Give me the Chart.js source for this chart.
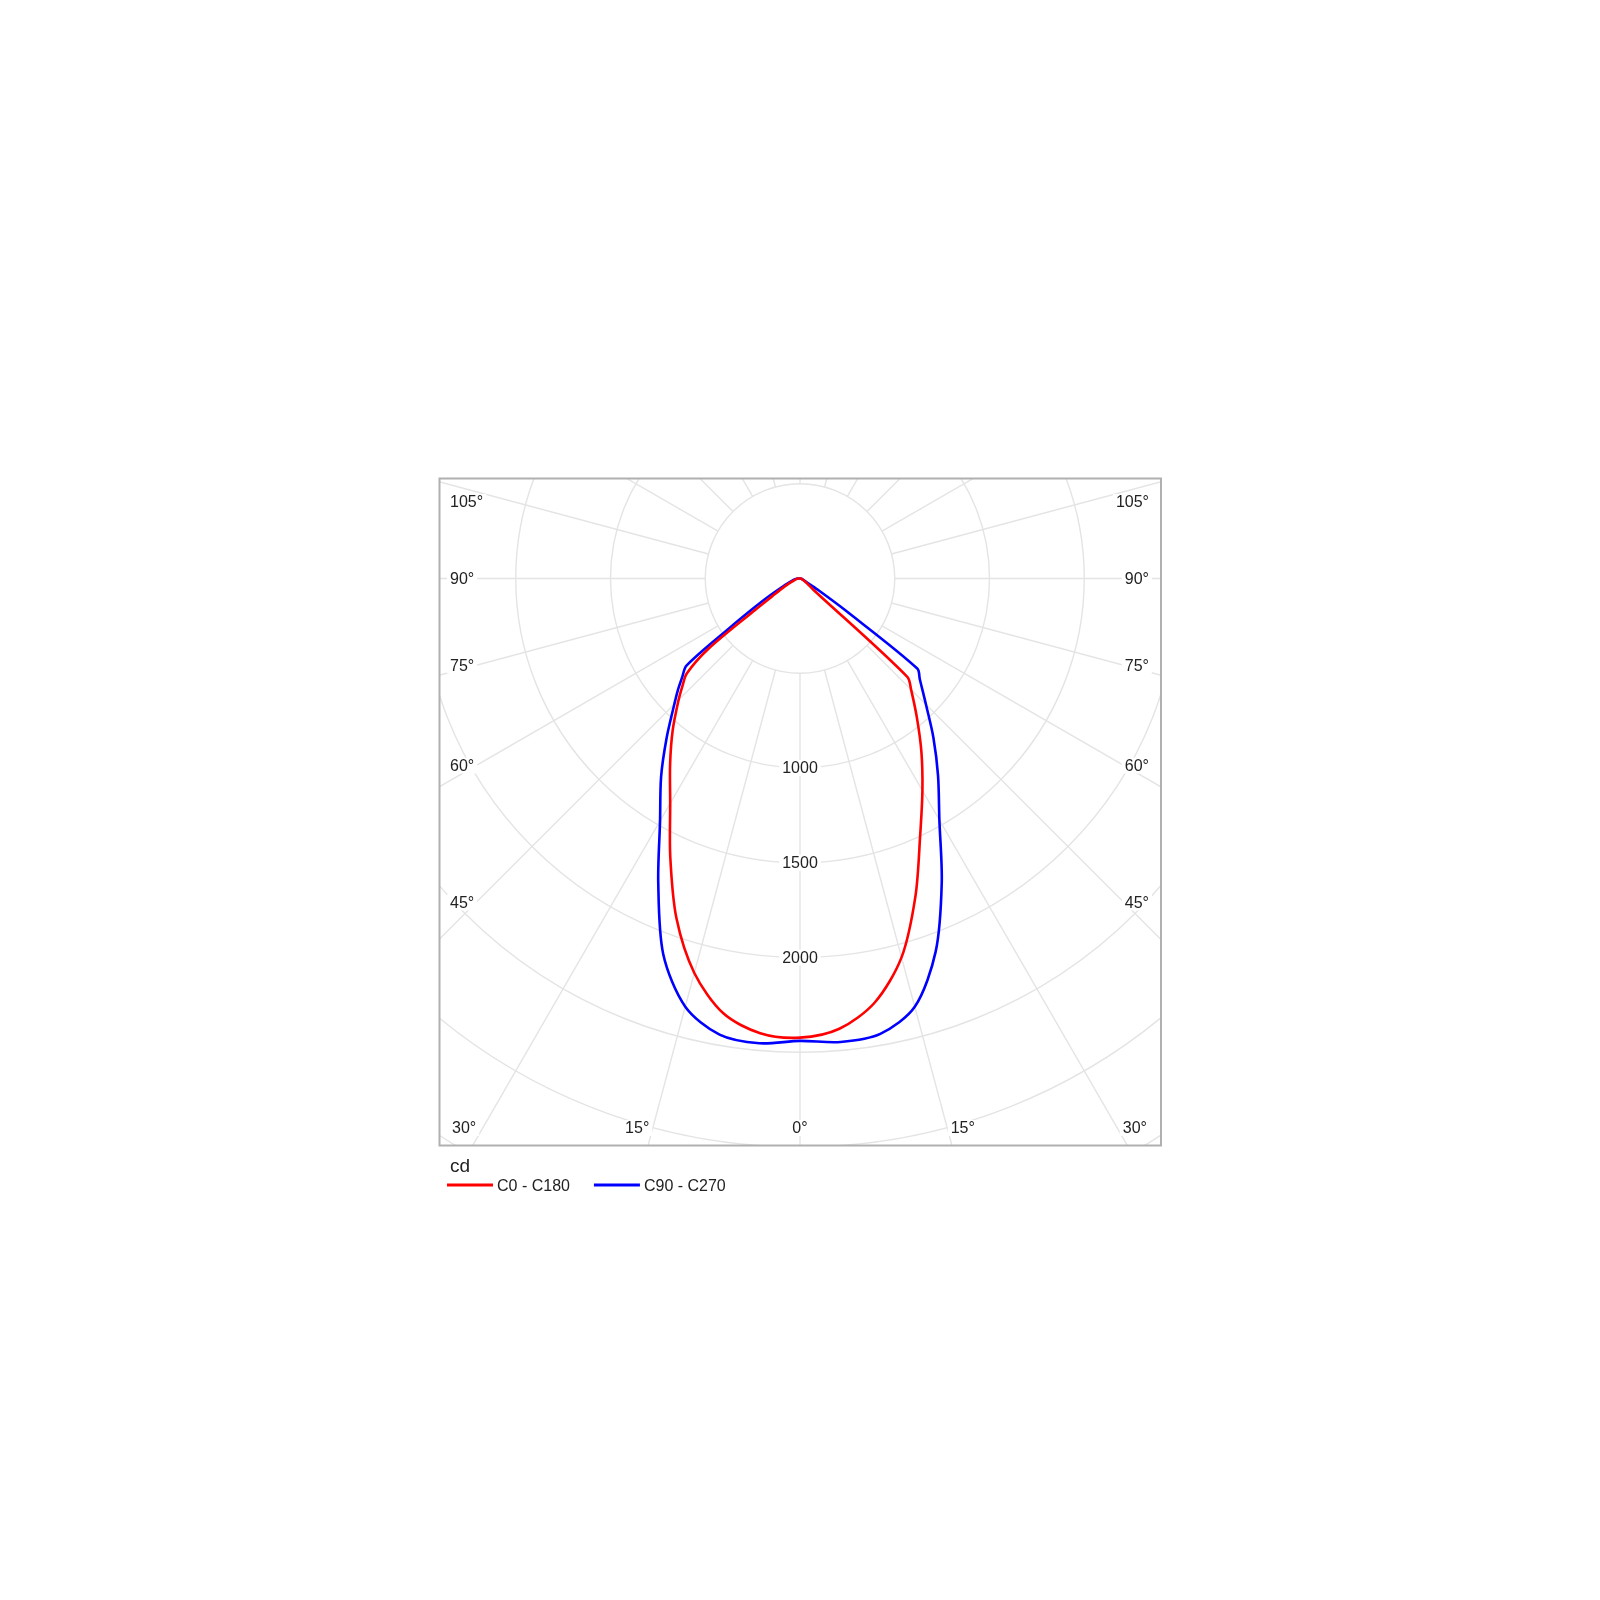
<!DOCTYPE html>
<html>
<head>
<meta charset="utf-8">
<title>Luminous intensity distribution</title>
<script src="https://cdn.jsdelivr.net/npm/chart.js@4.4.1/dist/chart.umd.min.js"></script>
<style>
  html, body { margin: 0; padding: 0; background: #fff; }
  #wrap { position: relative; width: 1600px; height: 1600px; }
</style>
</head>
<body>
<div id="wrap"><canvas id="polarChart"></canvas></div>
<script>
// gamma angles (deg from nadir) and intensities in cd
const GAMMA = [0, 5, 10, 15, 20, 25, 30, 35, 40, 45, 47.5, 50, 52.5, 55, 57.5, 60, 65, 70, 80, 90, 180];
const C0 = [2423, 2385, 2272, 2070, 1782, 1500, 1292, 1117, 960, 829, 768, 90, 60, 45, 35, 28, 18, 12, 6, 3, 0];
const C180 = [2423, 2409, 2330, 2155, 1907, 1620, 1370, 1195, 1045, 906, 842, 780, 609, 291, 173, 123, 70, 40, 20, 10, 0];
const C90 = [2440, 2455, 2440, 2340, 2094, 1770, 1471, 1270, 1095, 940, 878, 825, 780, 290, 120, 50, 25, 15, 8, 4, 0];
const C270 = [2440, 2462, 2444, 2339, 2110, 1770, 1477, 1278, 1094, 938, 875, 812, 755, 450, 290, 200, 100, 60, 30, 15, 0];

const RINGS = [500, 1000, 1500, 2000, 2500, 3000, 3500];
const RING_LABELS = [1000, 1500, 2000];
const ANGLE_LABELS = [0, 15, 30, 45, 60, 75, 90, 105];
const SPOKE_STEP = 15;
const UNIT = "cd";

// layout
const CENTER = { x: 800, y: 578.5 };
const BOX = { left: 440, top: 478, right: 1161, bottom: 1145 };
const PX_PER_CD = 0.1895;
const FONT = '"Liberation Sans", Arial, sans-serif';
const TEXT_COLOR = "#222";
const GRID_COLOR = "#e4e4e4";

function polar(gamma, value, side) {
  const t = gamma * Math.PI / 180;
  return { x: side * value * Math.sin(t), y: -value * Math.cos(t) };
}

// right half from the top down to 0, then left half back up
function toPoints(right, left) {
  const pts = [];
  for (let i = GAMMA.length - 1; i >= 0; i--) pts.push(polar(GAMMA[i], right[i], 1));
  for (let i = 1; i < GAMMA.length; i++) pts.push(polar(GAMMA[i], left[i], -1));
  return pts;
}

function labelBox(ctx, text, x, y, align) {
  const w = ctx.measureText(text).width;
  const left = align === "left" ? x : align === "right" ? x - w : x - w / 2;
  ctx.fillStyle = "#fff";
  ctx.fillRect(left - 3, y - 8, w + 6, 16);
  ctx.fillStyle = TEXT_COLOR;
  ctx.textAlign = align;
  ctx.textBaseline = "middle";
  ctx.fillText(text, x, y + 1);
}

const polarGrid = {
  id: "polarGrid",
  beforeDatasetsDraw(chart) {
    const { ctx, chartArea: a, scales } = chart;
    const cx = scales.x.getPixelForValue(0);
    const cy = scales.y.getPixelForValue(0);
    const unit = scales.x.getPixelForValue(1) - cx;
    const inner = RINGS[0] * unit;
    const outer = 2 * RINGS[RINGS.length - 1] * unit;

    ctx.save();
    ctx.beginPath();
    ctx.rect(a.left, a.top, a.right - a.left, a.bottom - a.top);
    ctx.clip();

    ctx.strokeStyle = GRID_COLOR;
    ctx.lineWidth = 1.4;
    RINGS.forEach((r) => {
      ctx.beginPath();
      ctx.arc(cx, cy, r * unit, 0, Math.PI * 2);
      ctx.stroke();
    });
    for (let deg = 0; deg < 360; deg += SPOKE_STEP) {
      const t = deg * Math.PI / 180;
      const dx = Math.sin(t), dy = Math.cos(t);
      ctx.beginPath();
      ctx.moveTo(cx + dx * inner, cy + dy * inner);
      ctx.lineTo(cx + dx * outer, cy + dy * outer);
      ctx.stroke();
    }

    ctx.font = "16px " + FONT;
    RING_LABELS.forEach((r) => labelBox(ctx, String(r), cx, cy + r * unit, "center"));

    ANGLE_LABELS.forEach((deg) => {
      [-1, 1].forEach((side) => {
        if (deg === 0 && side === 1) return;
        const t = deg * Math.PI / 180;
        const text = deg + "\u00b0";
        const w = ctx.measureText(text).width;
        if (Math.cos(t) > 0) {
          const bx = cx + side * (a.bottom - cy) * Math.tan(t);
          if (bx > a.left && bx < a.right) {
            let mid = deg === 0 ? cx : bx + side * 11;
            mid = Math.max(a.left + 12 + w / 2, Math.min(a.right - 14 - w / 2, mid));
            labelBox(ctx, text, mid, a.bottom - 17, "center");
            return;
          }
        }
        let ly = cy + (cx - (a.left + 36)) / Math.tan(t);
        ly = Math.max(a.top + 24, ly);
        if (side < 0) labelBox(ctx, text, a.left + 10, ly, "left");
        else labelBox(ctx, text, a.right - 12, ly, "right");
      });
    });
    ctx.restore();
  },
  afterDraw(chart) {
    const { ctx, chartArea: a } = chart;
    ctx.save();
    ctx.strokeStyle = "#b0b0b0";
    ctx.lineWidth = 2;
    ctx.strokeRect(a.left - 0.5, a.top + 0.5, a.right - a.left + 0.5, a.bottom - a.top);

    ctx.fillStyle = TEXT_COLOR;
    ctx.textAlign = "left";
    ctx.textBaseline = "alphabetic";
    ctx.font = "19px " + FONT;
    ctx.fillText(UNIT, a.left + 10, a.bottom + 27);

    ctx.font = "16px " + FONT;
    ctx.textBaseline = "middle";
    let x = a.left + 7;
    const y = a.bottom + 40;
    chart.data.datasets.forEach((ds) => {
      ctx.strokeStyle = ds.borderColor;
      ctx.lineWidth = 3;
      ctx.beginPath();
      ctx.moveTo(x, y);
      ctx.lineTo(x + 46, y);
      ctx.stroke();
      ctx.fillStyle = TEXT_COLOR;
      ctx.fillText(ds.label, x + 50, y + 2);
      x += 50 + ctx.measureText(ds.label).width + 24;
    });
    ctx.restore();
  }
};

new Chart(document.getElementById("polarChart"), {
  type: "scatter",
  data: {
    datasets: [
      { label: "C0 - C180", data: toPoints(C0, C180), borderColor: "#ff0000" },
      { label: "C90 - C270", data: toPoints(C90, C270), borderColor: "#0000ff" }
    ]
  },
  options: {
    responsive: true,
    maintainAspectRatio: false,
    animation: false,
    devicePixelRatio: 1,
    layout: {
      padding: { left: BOX.left, top: BOX.top, right: 1600 - BOX.right, bottom: 1600 - BOX.bottom }
    },
    elements: {
      point: { radius: 0, hoverRadius: 0 },
      line: { borderWidth: 2.6, tension: 0.3, borderJoinStyle: "round", borderCapStyle: "round", fill: false }
    },
    datasets: { scatter: { showLine: true } },
    scales: {
      x: { type: "linear", display: false, min: (BOX.left - CENTER.x) / PX_PER_CD, max: (BOX.right - CENTER.x) / PX_PER_CD },
      y: { type: "linear", display: false, min: -(BOX.bottom - CENTER.y) / PX_PER_CD, max: (CENTER.y - BOX.top) / PX_PER_CD }
    },
    plugins: { legend: { display: false }, tooltip: { enabled: false } }
  },
  plugins: [polarGrid]
});
</script>
</body>
</html>
